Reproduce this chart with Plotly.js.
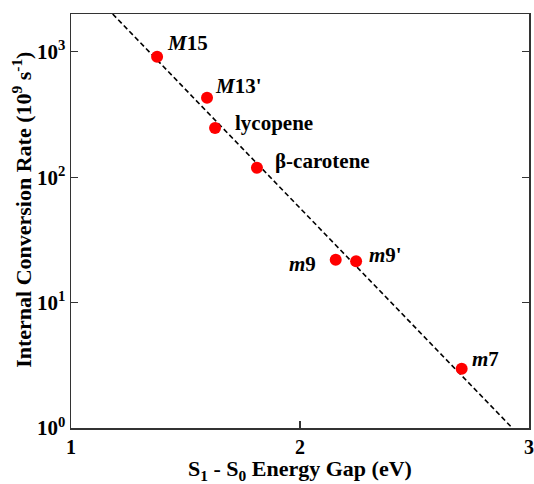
<!DOCTYPE html>
<html>
<head>
<meta charset="utf-8">
<script src="https://cdn.plot.ly/plotly-3.0.1.min.js"></script>
<style>html,body{margin:0;padding:0;background:#fff;}#chart{width:534px;height:484px;}</style>
</head>
<body>
<div id="chart"></div>
<script>
// Data
const names = ["<i>M</i>15", "<i>M</i>13'", "lycopene", "β-carotene", "<i>m</i>9", "<i>m</i>9'", "<i>m</i>7"];
const energyGap = [1.376, 1.594, 1.629, 1.812, 2.156, 2.245, 2.706];
const icRate = [912, 430, 247, 119, 22.0, 21.4, 2.97];
const fitX = [1.182, 2.927];
const fitY = [2000, 1];
const yTickVals = [1, 10, 100, 1000];
const yTickText = ["10<sup>0</sup>", "10<sup>1</sup>", "10<sup>2</sup>", "10<sup>3</sup>"];
const xTickVals = [1, 2, 3];
const xTitle = "S<sub>1</sub> - S<sub>0</sub> Energy Gap (eV)";
const yTitle = "Internal Conversion Rate (10<sup>9</sup> s<sup>-1</sup>)";

// label placement (pixel offsets)
const labelStyle = [
  {xanchor: "left", xshift: 8, yshift: 14},
  {xanchor: "left", xshift: 6, yshift: 12},
  {xanchor: "left", xshift: 18, yshift: 5},
  {xanchor: "left", xshift: 16, yshift: 7},
  {xanchor: "right", xshift: -18, yshift: -4},
  {xanchor: "left", xshift: 11, yshift: 6},
  {xanchor: "left", xshift: 8, yshift: 10}
];

const serif = "Liberation Serif, Times New Roman, serif";

const traces = [
  {x: fitX, y: fitY, mode: "lines", type: "scatter",
   line: {color: "#000", width: 1.6, dash: "5px,3px"}, hoverinfo: "skip"},
  {x: energyGap, y: icRate, mode: "markers", type: "scatter",
   marker: {color: "#ff0000", size: 12}}
];

const annotations = names.map((n, i) => Object.assign({
  x: energyGap[i], y: Math.log10(icRate[i]), xref: "x", yref: "y",
  text: "<b>" + n + "</b>", showarrow: false, yanchor: "middle",
  font: {family: serif, size: 21, color: "#000"}
}, labelStyle[i]));

annotations.push({
  xref: "paper", yref: "paper", x: -0.106, y: 0.528,
  xanchor: "center", yanchor: "middle", textangle: -90, showarrow: false,
  text: "<b>" + yTitle + "</b>",
  font: {family: serif, size: 22, color: "#000"}
});

const layout = {
  width: 534, height: 484,
  margin: {l: 71, r: 5, t: 14, b: 56},
  paper_bgcolor: "#fff", plot_bgcolor: "#fff",
  showlegend: false,
  font: {family: serif, color: "#000"},
  xaxis: {
    range: [1, 3], tickvals: xTickVals, ticktext: xTickVals.map(v => "<b>" + v + "</b>"),
    ticks: "inside", ticklen: 7, tickwidth: 1.3, tickcolor: "#333",
    ticklabeloverflow: "allow",
    showline: true, linecolor: "#333", linewidth: 1.5, mirror: true,
    showgrid: false, zeroline: false,
    tickfont: {family: serif, size: 20, color: "#000"},
    title: {text: "<b>" + xTitle + "</b>", standoff: 4,
            font: {family: serif, size: 22, color: "#000"}}
  },
  yaxis: {
    type: "log", range: [0, Math.log10(2000)],
    tickvals: yTickVals, ticktext: yTickText.map(t => "<b>" + t + "</b>"),
    ticks: "inside", ticklen: 7, tickwidth: 1.3, tickcolor: "#333",
    showline: true, linecolor: "#333", linewidth: 1.5, mirror: "ticks",
    showgrid: false, zeroline: false,
    tickfont: {family: serif, size: 21, color: "#000"}
  },
  annotations: annotations
};

Plotly.newPlot("chart", traces, layout, {staticPlot: true, displayModeBar: false});
</script>
</body>
</html>
